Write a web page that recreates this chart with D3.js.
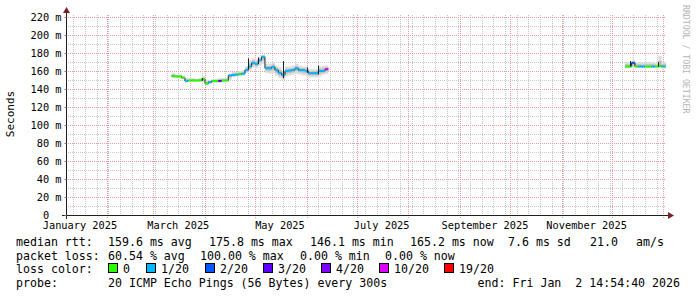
<!DOCTYPE html>
<html>
<head>
<meta charset="utf-8">
<script src="https://cdn.jsdelivr.net/npm/d3@7"></script>
<style>
body { margin: 0; background: #fff; }
svg text { font-family: "DejaVu Sans Mono", monospace; white-space: pre; fill: #000; }
</style>
</head>
<body>
<svg id="chart" width="697" height="297"></svg>
<script>
// time window of the graph (last 360 days)
var startTime = new Date(Date.UTC(2025, 0, 7, 14, 54, 40));
var endTime = new Date(Date.UTC(2026, 0, 2, 14, 54, 40));

// y axis ticks (ms)
var yTicks = [0, 20, 40, 60, 80, 100, 120, 140, 160, 180, 200, 220];
var yMinorTicks = [10, 30, 50, 70, 90, 110, 130, 150, 170, 190, 210];

// x labels
var xLabelDates = ['2025-01-16', '2025-03-16', '2025-05-16', '2025-07-16', '2025-09-16', '2025-11-16'];
var xLabelText = ['January 2025', 'March 2025', 'May 2025', 'July 2025', 'September 2025', 'November 2025'];

// loss colours
var lossLabels = ['0', '1/20', '2/20', '3/20', '4/20', '10/20', '19/20'];
var lossColors = ['#26ff00', '#00b8ff', '#0059ff', '#5e00ff', '#7e00ff', '#dd00ff', '#ff0000'];

// spring block: one value every 2 days from Mar 12
var springMedian = [154.4,154,154,152.5,149,149.5,149.5,149.5,149.5,151,146,147.5,149,149,149,149.5,149.5,155,155.5,156,156.5,157,161,165,169,168,172,175.8,163,163,164.5,161,158,155.5,160,160.5,161,163,161,161,160,157.5,157.5,157.5,160,160,162];
var springLoss = [0,0,0,0,1,0,0,0,0,0,0,1,0,0,3,0,0,1,1,1,0,1,1,1,1,1,1,1,1,1,1,1,1,1,1,1,1,1,1,1,1,1,1,1,1,1,5];
var springSmokeLo = [152,152,152,151,147,148,148,148,148,148,144,146,147,147,147,148,148,150,153,154,154,155,158,160,164,163,166,168,158,157,158,155,152,150,154,155,156,157,156,155,155,153,153,153,154,156,157];
var springSmokeHi = [158,156,156,155,152,152,152,151,152,154,150,150,151,151,152,152,152,157,159,159,160,161,165,172,174,173,176,178,168,168,170,166,164,160,165,165,166,168,166,165,165,162,162,162,165,166,166];

// winter block: one value every 2 days from Dec 9
var winterMedian = [165,165,169,165,165,165,165,165,165,165,165.5,165,165];
var winterLoss = [0,0,2,0,1,1,0,0,1,0,0,1,0];
var winterSmokeLo = [163,163,163,163,163,163,163,163,163,163,163,163,163];
var winterSmokeHi = [170,170,172,170,170,169,170,170,170,169,177,170,170];

// dark median jumps
var spikeDates = ['2025-03-30','2025-04-27','2025-05-03','2025-05-18','2025-06-01','2025-06-08','2025-12-12','2025-12-29'];
var spikeLo = [149,162,168,152,158,156,165,165];
var spikeHi = [152,174,175,171,164,166,171,170];

// legend text
var rttStats = ['159.6 ms avg', '175.8 ms max', '146.1 ms min', '165.2 ms now', '7.6 ms sd', '21.0', 'am/s'];
var lossStats = ['60.54 % avg', '100.00 % max', '0.00 % min', '0.00 % now'];
var probeText = '20 ICMP Echo Pings (56 Bytes) every 300s';
var endText = 'end: Fri Jan  2 14:54:40 2026';

var svg = d3.select('#chart');
var x = d3.scaleUtc().domain([startTime, endTime]).range([66, 666]);
var y = d3.scaleLinear().domain([0, 222.22]).range([215, 15]);
var parse = d3.utcParse('%Y-%m-%d');

var gridG = svg.append('g');
// minor grid
gridG.selectAll('.hmin').data(yMinorTicks).enter().append('line')
    .attr('x1', 66).attr('x2', 666)
    .attr('y1', d => Math.round(y(d)) + 0.5).attr('y2', d => Math.round(y(d)) + 0.5)
    .attr('stroke', '#c8c8c8').attr('stroke-dasharray', '1,1');
gridG.selectAll('.vmin').data(d3.utcSunday.range(startTime, endTime)).enter().append('line')
    .attr('x1', d => Math.round(x(d)) + 0.5).attr('x2', d => Math.round(x(d)) + 0.5)
    .attr('y1', 15).attr('y2', 215)
    .attr('stroke', '#c8c8c8').attr('stroke-dasharray', '1,1');
// major grid
gridG.selectAll('.hmaj').data(yTicks.slice(1)).enter().append('line')
    .attr('x1', 66).attr('x2', 666)
    .attr('y1', d => Math.round(y(d)) + 0.5).attr('y2', d => Math.round(y(d)) + 0.5)
    .attr('stroke', '#eb9a9a').attr('stroke-dasharray', '1,1');
gridG.selectAll('.vmaj').data(d3.utcMonth.range(startTime, endTime)).enter().append('line')
    .attr('x1', d => Math.round(x(d)) + 0.5).attr('x2', d => Math.round(x(d)) + 0.5)
    .attr('y1', 15).attr('y2', 218)
    .attr('stroke', '#eb9a9a').attr('stroke-dasharray', '1,1');

// build the two data blocks
function makeBlock(first, last, med, loss, lo, hi) {
    var days = d3.utcDay.range(parse(first), parse(last), 2);
    return days.map(function(d, i) {
        var e = d3.utcDay.offset(d, 2);
        if (e > endTime) e = endTime;
        return {t0: d, t1: e, med: med[i], loss: loss[i], lo: lo[i], hi: hi[i]};
    });
}
var blocks = [
    makeBlock('2025-03-12', '2025-06-14', springMedian, springLoss, springSmokeLo, springSmokeHi),
    makeBlock('2025-12-09', '2026-01-04', winterMedian, winterLoss, winterSmokeLo, winterSmokeHi)
];

var dataG = svg.append('g');
blocks.forEach(function(block) {
    // smoke
    dataG.selectAll(null).data(block).enter().append('rect')
        .attr('x', d => x(d.t0)).attr('width', d => x(d.t1) - x(d.t0))
        .attr('y', d => y(d.hi)).attr('height', d => y(d.lo) - y(d.hi))
        .attr('fill', '#dcdcdc');
    dataG.selectAll(null).data(block).enter().append('rect')
        .attr('x', d => x(d.t0)).attr('width', d => x(d.t1) - x(d.t0))
        .attr('y', d => y(d.med + (d.hi - d.med) / 2)).attr('height', d => y(d.med - (d.med - d.lo) / 2) - y(d.med + (d.hi - d.med) / 2))
        .attr('fill', '#bdbdbd');
    // thin dark median
    var pts = block.map(d => [x(d.t0), y(d.med)]);
    var lastD = block[block.length - 1];
    pts.push([x(lastD.t1), y(lastD.med)]);
    dataG.append('path')
        .attr('d', d3.line().curve(d3.curveStepAfter)(pts))
        .attr('fill', 'none').attr('stroke', '#202020').attr('stroke-width', 1);
    // coloured median by loss
    dataG.selectAll(null).data(block).enter().append('line')
        .attr('x1', d => x(d.t0)).attr('x2', d => x(d.t1))
        .attr('y1', d => y(d.med)).attr('y2', d => y(d.med))
        .attr('stroke', d => lossColors[d.loss]).attr('stroke-width', 2);
});

// dark jumps
dataG.selectAll('.spike').data(spikeDates).enter().append('line')
    .attr('x1', d => Math.round(x(parse(d))) + 0.5).attr('x2', d => Math.round(x(parse(d))) + 0.5)
    .attr('y1', (d, i) => y(spikeLo[i])).attr('y2', (d, i) => y(spikeHi[i]))
    .attr('stroke', '#202020').attr('stroke-width', 1);

// axes
var axisCol = '#1f1f1f', arrowCol = '#801f1f';
svg.append('line').attr('x1', 66.5).attr('x2', 66.5).attr('y1', 219).attr('y2', 12).attr('stroke', axisCol);
svg.append('line').attr('x1', 62).attr('x2', 669).attr('y1', 215.5).attr('y2', 215.5).attr('stroke', axisCol);
svg.append('path').attr('d', 'M63,13L70,13L66.5,7Z').attr('fill', arrowCol);
svg.append('path').attr('d', 'M668,212L668,219L674,215.5Z').attr('fill', arrowCol);

var yAxisG = svg.append('g').attr('transform', 'translate(66.5,0)')
    .call(d3.axisLeft(y).tickValues(yTicks).tickSize(2).tickPadding(3)
        .tickFormat(d => d === 0 ? '0  ' : d + ' m'));
yAxisG.select('.domain').remove();
yAxisG.selectAll('line').attr('stroke', '#777');
yAxisG.selectAll('text').attr('font-family', null).style('font-size', '10.3px').attr('dy', '0.35em');

svg.selectAll('.xlab').data(xLabelDates).enter().append('text')
    .attr('x', d => x(parse(d))).attr('y', 229)
    .attr('text-anchor', 'middle').style('font-size', '10.3px')
    .text((d, i) => xLabelText[i]);

svg.append('text').attr('transform', 'translate(14,114) rotate(-90)')
    .attr('text-anchor', 'middle').style('font-size', '11px').text('Seconds');

svg.append('text').attr('transform', 'translate(683,5) rotate(90)')
    .style('font-size', '8.2px').style('fill', '#b4b4b4').text('RRDTOOL / TOBI OETIKER');

// legend
var legend = svg.append('g').style('font-size', '11.6px');
var rowY = [245.5, 259.5, 273, 287];
legend.append('text').attr('x', 16).attr('y', rowY[0]).text('median rtt:');
var rttX = [108, 209, 310, 410, 508, 590, 636];
rttStats.forEach(function(s, i) { legend.append('text').attr('x', rttX[i]).attr('y', rowY[0]).text(s); });
legend.append('text').attr('x', 16).attr('y', rowY[1]).text('packet loss:');
var lossX = [108, 200, 300, 385];
lossStats.forEach(function(s, i) { legend.append('text').attr('x', lossX[i]).attr('y', rowY[1]).text(s); });
legend.append('text').attr('x', 16).attr('y', rowY[2]).text('loss color:');
var boxX = [108, 146, 205, 263, 321, 379, 444];
lossLabels.forEach(function(s, i) {
    legend.append('rect').attr('x', boxX[i] + 0.5).attr('y', rowY[2] - 9.5).attr('width', 9).attr('height', 9)
        .attr('fill', lossColors[i]).attr('stroke', '#000');
    legend.append('text').attr('x', boxX[i] + 15).attr('y', rowY[2]).text(s);
});
legend.append('text').attr('x', 16).attr('y', rowY[3]).text('probe:');
legend.append('text').attr('x', 108).attr('y', rowY[3]).text(probeText);
legend.append('text').attr('x', 680).attr('y', rowY[3]).attr('text-anchor', 'end').text(endText);
</script>
</body>
</html>
